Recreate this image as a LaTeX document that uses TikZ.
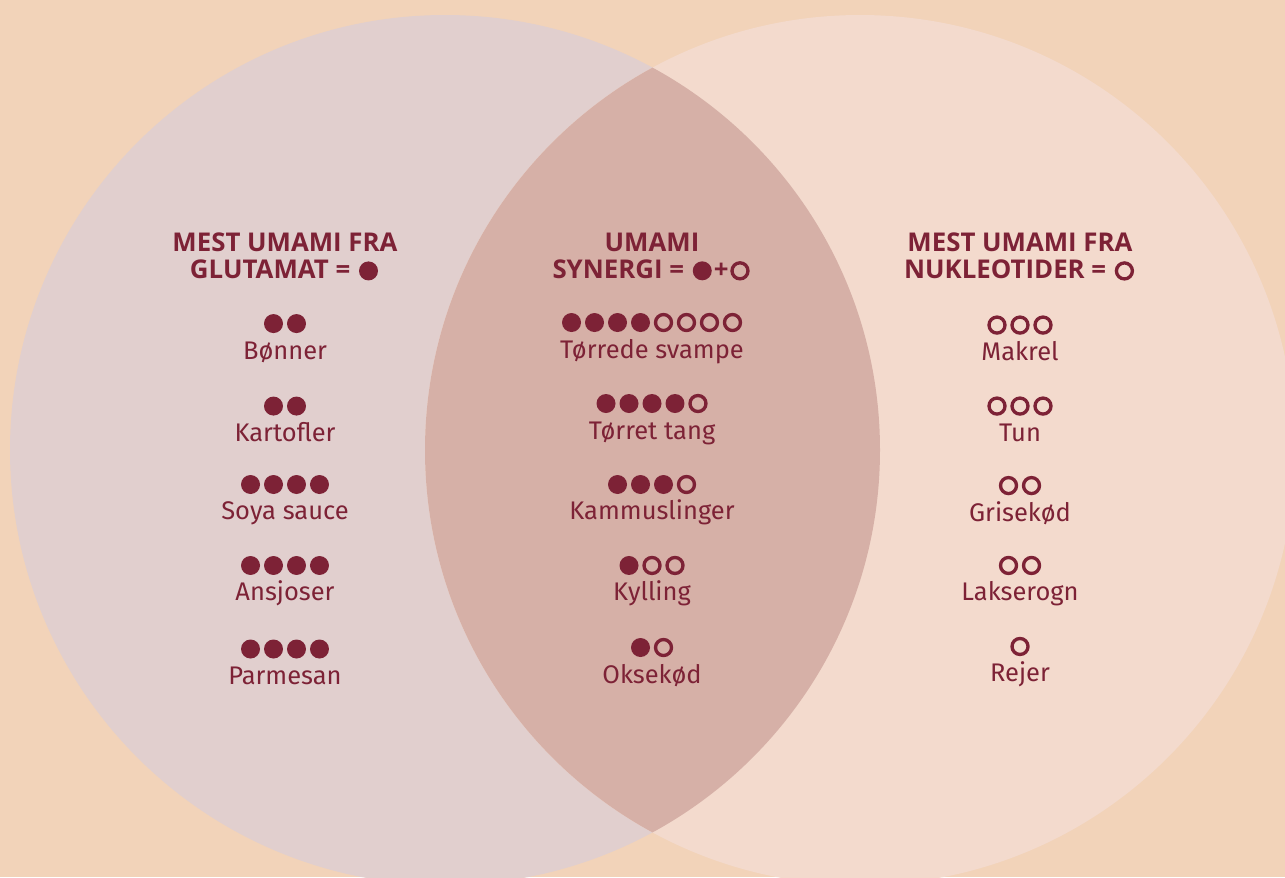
\documentclass[tikz,border=0pt]{standalone}
\usepackage{fontspec}
\setmainfont{Fira Sans}
\newfontfamily\headfont{Open Sans}
\usetikzlibrary{positioning}
\definecolor{bgpeach}{HTML}{F2D3B9}
\definecolor{glucircle}{HTML}{E1CFCE}
\definecolor{nukcircle}{HTML}{F3DACD}
\definecolor{synlens}{HTML}{D6B0A7}
\definecolor{umami}{HTML}{7D2236}
\newcommand\fulldot{\tikz[baseline=-0.55ex]{\useasboundingbox (-0.23cm,-0.2cm) rectangle (0.23cm,0.2cm);
    \fill[umami] (0cm,0cm) circle (0.19cm);}}
\newcommand\opendot{\tikz[baseline=-0.55ex]{\useasboundingbox (-0.23cm,-0.2cm) rectangle (0.23cm,0.2cm);
    \draw[umami,line width=1.9pt] (0cm,0cm) circle (0.16cm);}}
\tikzset{
    head/.style={text=umami, align=center, font=\headfont\fontsize{14.7}{15.3}\selectfont\bfseries},
    item/.style={text=umami, align=center, font=\fontsize{14.5}{16}\selectfont\mdseries},
}
\begin{document}
\begin{tikzpicture}[x=0.02cm,y=-0.02cm,node distance=1.62cm,on grid]
   \useasboundingbox[fill=bgpeach] (0,0) rectangle (1285,877);
   \fill[glucircle] (445,450) circle (435);
   \fill[nukcircle] (860,450) circle (435);
   \begin{scope}
     \clip (445,450) circle (435);
     \fill[synlens] (860,450) circle (435);
   \end{scope}
   % glutamat
   \node[head] (l_0) at (285,257) {MEST UMAMI FRA\\GLUTAMAT = \fulldot};
   \node[item] (l_1) [below=of l_0] {\fulldot\fulldot\\Bønner};
   \node[item] (l_2) [below=of l_1] {\fulldot\fulldot\\Kartofler};
   \node[item] (l_3) [below=of l_2] {\fulldot\fulldot\fulldot\fulldot\\Soya sauce};
   \node[item] (l_4) [below=of l_3] {\fulldot\fulldot\fulldot\fulldot\\Ansjoser};
   \node[item] (l_5) [below=of l_4] {\fulldot\fulldot\fulldot\fulldot\\Parmesan};
   % synergi
   \node[head] (m_0) at (652,257) {UMAMI\\SYNERGI = \fulldot+\opendot};
   \node[item] (m_1) [below=of m_0] {\fulldot\fulldot\fulldot\fulldot\opendot\opendot\opendot\opendot\\Tørrede svampe};
   \node[item] (m_2) [below=of m_1] {\fulldot\fulldot\fulldot\fulldot\opendot\\Tørret tang};
   \node[item] (m_3) [below=of m_2] {\fulldot\fulldot\fulldot\opendot\\Kammuslinger};
   \node[item] (m_4) [below=of m_3] {\fulldot\opendot\opendot\\Kylling};
   \node[item] (m_5) [below=of m_4] {\fulldot\opendot\\Oksekød};
   % nukleotider
   \node[head] (r_0) at (1020,257) {MEST UMAMI FRA\\NUKLEOTIDER = \opendot};
   \node[item] (r_1) [below=of r_0] {\opendot\opendot\opendot\\Makrel};
   \node[item] (r_2) [below=of r_1] {\opendot\opendot\opendot\\Tun};
   \node[item] (r_3) [below=of r_2] {\opendot\opendot\\Grisekød};
   \node[item] (r_4) [below=of r_3] {\opendot\opendot\\Lakserogn};
   \node[item] (r_5) [below=of r_4] {\opendot\\Rejer};
\end{tikzpicture}
\end{document}
